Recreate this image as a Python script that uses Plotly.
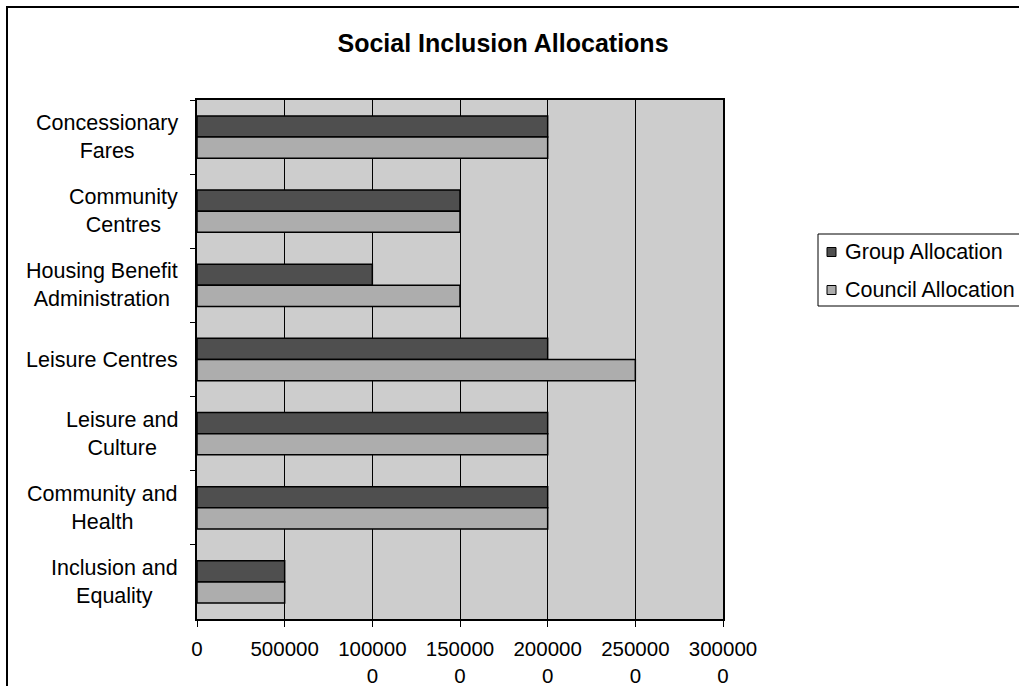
import plotly.graph_objects as go

# Categories (top to bottom) and allocation values
categories = [
    "Concessionary<br>Fares",
    "Community<br>Centres",
    "Housing Benefit<br>Administration",
    "Leisure Centres",
    "Leisure and<br>Culture",
    "Community and<br>Health",
    "Inclusion and<br>Equality",
]
group_allocation = [2000000, 1500000, 1000000, 2000000, 2000000, 2000000, 500000]
council_allocation = [2000000, 1500000, 1500000, 2500000, 2000000, 2000000, 500000]

tick_values = [0, 500000, 1000000, 1500000, 2000000, 2500000, 3000000]
tick_labels = ["0", "500000", "100000<br>0", "150000<br>0", "200000<br>0",
               "250000<br>0", "300000<br>0"]

series_names = ["Group Allocation", "Council Allocation"]
series_colors = ["#4f4f4f", "#adadad"]

FONT = "Liberation Sans, Arial, sans-serif"

fig = go.Figure()
for name, values, color in zip(series_names,
                               [group_allocation, council_allocation],
                               series_colors):
    fig.add_trace(go.Bar(
        name=name,
        y=categories,
        x=values,
        orientation="h",
        marker=dict(color=color, line=dict(color="black", width=1.5)),
        showlegend=False,
    ))

# Category labels, centred line by line to the left of the axis
annotations = []
for cat in categories:
    annotations.append(dict(
        x=0, xref="paper", y=cat, yref="y",
        xanchor="right", yanchor="middle", xshift=-17,
        text=cat, align="center", showarrow=False,
        font=dict(family=FONT, size=21.5, color="black"),
    ))

# Plot-area pixel box, used to place the frame and legend in paper units
L, R, T, B = 197, 723, 100, 619
W, H = R - L, B - T


def px(x):
    return (x - L) / W


def py(y):
    return (B - y) / H


shapes = [
    # outer chart frame
    dict(type="rect", xref="paper", yref="paper",
         x0=px(7), x1=px(1100), y0=py(760), y1=py(7),
         line=dict(color="black", width=2), fillcolor="rgba(0,0,0,0)"),
    # legend frame
    dict(type="rect", xref="paper", yref="paper",
         x0=px(818), x1=px(1020), y0=py(306), y1=py(234),
         line=dict(color="black", width=1), fillcolor="white"),
]
for i, (name, color) in enumerate(zip(series_names, series_colors)):
    yc = 252 + 38 * i
    shapes.append(dict(type="rect", xref="paper", yref="paper",
                       x0=px(827), x1=px(836), y0=py(yc + 4.5), y1=py(yc - 4.5),
                       line=dict(color="black", width=1), fillcolor=color))
    annotations.append(dict(
        x=px(843), xref="paper", y=py(yc), yref="paper",
        xanchor="left", yanchor="middle", text=name, showarrow=False,
        font=dict(family=FONT, size=21.5, color="black"),
    ))

fig.update_layout(
    width=1019, height=686,
    margin=dict(l=L, r=1019 - R, t=T, b=686 - B, autoexpand=False),
    paper_bgcolor="white",
    plot_bgcolor="#cdcdcd",
    barmode="group",
    bargap=0.43,
    bargroupgap=0,
    title=dict(
        text="<b>Social Inclusion Allocations</b>",
        x=503 / 1019, xref="container", xanchor="center",
        y=1 - 43 / 686, yref="container", yanchor="middle",
        font=dict(family=FONT, size=25, color="black"),
    ),
    font=dict(family=FONT, color="black"),
    annotations=annotations,
    shapes=shapes,
)

fig.update_xaxes(
    range=[0, 3000000],
    tickmode="array", tickvals=tick_values, ticktext=tick_labels,
    tickfont=dict(family=FONT, size=20.5, color="black"),
    ticks="outside", ticklen=6, tickcolor="black",
    ticklabelstandoff=5,
    showgrid=True, gridcolor="black", gridwidth=1,
    showline=True, linecolor="black", linewidth=1.5, mirror=True,
    zeroline=False, automargin=False,
)
fig.update_yaxes(
    type="category", autorange="reversed",
    showticklabels=False,
    ticks="outside", tickson="boundaries", ticklen=5, tickcolor="black",
    showgrid=False,
    showline=True, linecolor="black", linewidth=1.5, mirror=True,
    automargin=False,
)

fig.write_html("out.html")
